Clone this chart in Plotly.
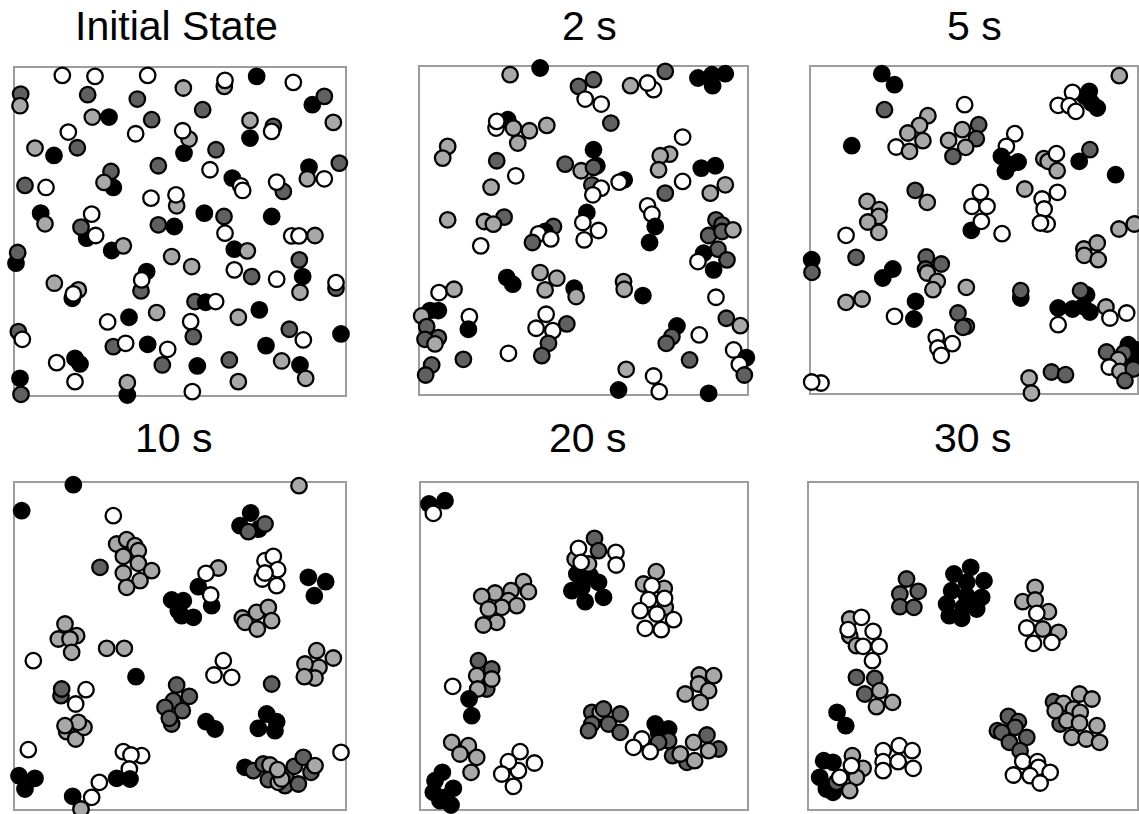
import plotly.graph_objects as go

# ---- Panel titles ----
titles = ["Initial State", "2 s", "5 s", "10 s", "20 s", "30 s"]

# ---- Particle positions (arbitrary position units) and species (W/L/D/B) ----
p1_x = [172, 270, 428, 535, 658, 660, 755, 865, 922, 958, 47, 45, 248, 397, 593, 262, 312, 440, 735, 805,
        800, 985, 190, 392, 552, 533, 735, 90, 147, 217, 537, 633, 460, 318, 325, 297, 615, 912, 907, 958,
        1003, 682, 707, 713, 835, 815, 60, 123, 438, 515, 513, 107, 120, 260, 245, 228, 272, 598, 657, 800,
        460, 508, 660, 860, 882, 930, 33, 38, 320, 355, 500, 688, 727, 560, 883, 688, 425, 408, 410, 740,
        815, 893, 885, 993, 993, 148, 220, 202, 205, 570, 602, 632, 763, 372, 455, 308, 557, 700, 40, 52,
        853, 895, 1008, 325, 362, 428, 488, 565, 783, 155, 210, 225, 472, 577, 673, 830, 885, 902, 45, 48,
        210, 367, 367, 562, 700]
p1_y = [47, 50, 47, 85, 80, 62, 50, 68, 135, 110, 103, 138, 105, 118, 150, 172, 172, 180, 182, 200,
        215, 188, 217, 222, 238, 213, 235, 265, 287, 264, 280, 270, 318, 335, 383, 368, 330, 322, 357, 357,
        310, 355, 378, 392, 395, 367, 377, 383, 415, 438, 405, 460, 492, 463, 535, 502, 527, 460, 470, 470,
        495, 500, 520, 528, 528, 527, 610, 578, 572, 558, 590, 568, 573, 620, 600, 630, 635, 693, 660, 650,
        658, 650, 697, 685, 668, 670, 690, 715, 702, 725, 727, 725, 750, 772, 758, 786, 785, 772, 815, 838,
        808, 840, 822, 860, 850, 853, 868, 830, 857, 908, 895, 912, 915, 918, 900, 903, 915, 955, 955, 1003,
        965, 1005, 968, 995, 965]
p1_c = list("WWWLLWBWBDDLDDDLBDLDWLWWLWBLBDBDDDBLWBLWDBWWDWDWWLWBLWBDWBDBDBWWWLBDBLLBLLDWBDWDWBLDWLLBWDBWBBLWWLDWDWBDWBWDBWBBDBDLBLBDWBLWL")

p2_x = [295, 385, 545, 500, 520, 568, 656, 725, 707, 760, 858, 902, 900, 940, 288, 253, 255, 305, 353, 405,
        318, 597, 812, 108, 93, 255, 545, 460, 555, 508, 545, 540, 568, 543, 312, 773, 745, 740, 868, 910,
        637, 622, 812, 238, 760, 895, 940, 707, 720, 730, 713, 525, 513, 560, 517, 108, 277, 218, 245, 425,
        400, 380, 417, 362, 207, 912, 930, 890, 930, 963, 918, 875, 858, 945, 905, 285, 303, 385, 435, 400,
        487, 493, 635, 637, 693, 82, 127, 912, 55, 80, 30, 45, 80, 40, 70, 173, 170, 403, 373, 423,
        465, 410, 390, 795, 780, 763, 943, 985, 862, 965, 1003, 982, 997, 290, 155, 60, 42, 833, 643, 725,
        742, 620, 890]
p2_y = [45, 25, 60, 80, 118, 133, 78, 90, 70, 35, 55, 78, 45, 42, 180, 205, 185, 205, 213, 197,
        250, 190, 232, 260, 295, 303, 270, 313, 318, 333, 323, 375, 385, 405, 348, 283, 288, 330, 325, 318,
        360, 367, 365, 382, 400, 400, 375, 438, 463, 500, 548, 458, 488, 512, 540, 480, 472, 485, 493, 500,
        515, 522, 537, 548, 558, 480, 495, 527, 515, 510, 568, 580, 605, 600, 630, 653, 673, 638, 655, 690,
        685, 710, 665, 688, 707, 698, 688, 712, 752, 752, 768, 800, 833, 838, 852, 770, 808, 763, 805, 812,
        792, 850, 887, 798, 830, 850, 775, 797, 825, 870, 893, 913, 945, 880, 898, 915, 945, 900, 928, 948,
        995, 990, 1000]
p2_c = list("LBDDWWLWWDBBBBBWWLLLLDWLLDBDBLDDWWWLLLBBBWWLDLLWWBBBWWWLDLLDBWWDWDDDDLDBWDBBBLLLBLLLBWLWBBLDDDLWBWWWDDDBDDDLWWBWDWDDDDLWWBB")

p3_x = [247, 285, 958, 855, 875, 868, 892, 818, 775, 808, 828, 495, 255, 385, 360, 325, 370, 290, 330, 537,
        488, 530, 447, 498, 460, 157, 645, 620, 605, 630, 655, 617, 732, 745, 770, 772, 870, 838, 947, 347,
        383, 675, 515, 542, 517, 562, 545, 727, 773, 733, 742, 722, 203, 240, 238, 205, 238, 140, 607, 957,
        1003, 852, 892, 853, 895, 37, 38, 170, 280, 250, 380, 425, 378, 383, 413, 400, 500, 663, 663, 860,
        842, 140, 188, 348, 343, 285, 775, 818, 850, 870, 918, 930, 980, 775, 475, 500, 490, 410, 458, 415,
        425, 985, 1005, 1000, 920, 972, 955, 928, 960, 1000, 975, 755, 797, 688, 695, 65, 37]
p3_y = [42, 75, 48, 110, 130, 95, 145, 98, 137, 138, 155, 135, 150, 168, 197, 220, 243, 262, 275, 195,
        210, 237, 242, 263, 290, 258, 222, 260, 290, 315, 307, 335, 297, 305, 282, 333, 270, 305, 345, 392,
        428, 388, 512, 398, 440, 440, 485, 418, 398, 448, 493, 490, 425, 450, 470, 487, 518, 527, 522, 508,
        493, 568, 550, 587, 600, 600, 638, 593, 628, 655, 592, 613, 628, 640, 665, 690, 683, 715, 693, 705,
        693, 728, 718, 725, 778, 770, 745, 748, 740, 757, 742, 775, 760, 795, 760, 800, 803, 833, 852, 865,
        887, 855, 870, 900, 877, 880, 900, 922, 935, 928, 963, 937, 945, 955, 1000, 970, 967]
p3_c = list("BBLBBBBWWWWWDLLLLWLDLDLLDBWWBBBBLLWLDBBDLLBWWWWWWWWWLLLLLWWLLLLLLBDDBBDDDLLLLBDBDLLBBWBBBBLWWWDDDWWWWBBBDDLWLDDDDLLWW")

p4_x = [205, 882, 50, 325, 737, 705, 762, 780, 730, 335, 365, 390, 400, 355, 400, 440, 355, 405, 365, 285,
        780, 805, 818, 772, 780, 815, 910, 962, 928, 640, 603, 580, 500, 535, 520, 530, 565, 620, 617, 712,
        755, 790, 800, 720, 757, 180, 215, 160, 195, 200, 305, 358, 85, 655, 627, 680, 935, 985, 942, 930,
        900, 898, 393, 800, 168, 170, 243, 212, 515, 553, 505, 480, 532, 500, 493, 185, 212, 237, 220, 180,
        603, 630, 785, 815, 760, 810, 70, 355, 410, 378, 373, 1008, 42, 90, 60, 335, 375, 283, 260, 203,
        228, 720, 745, 775, 795, 840, 880, 790, 820, 842, 830, 818, 868, 895, 918, 930]
p4_y = [27, 30, 105, 120, 112, 150, 160, 145, 168, 205, 192, 210, 225, 242, 263, 285, 292, 315, 335, 275,
        255, 242, 282, 310, 292, 330, 305, 318, 360, 277, 293, 333, 373, 375, 405, 420, 425, 390, 358, 427,
        410, 395, 435, 440, 460, 445, 480, 490, 490, 530, 518, 518, 555, 555, 598, 605, 525, 547, 575, 607,
        565, 603, 603, 625, 660, 640, 642, 685, 628, 662, 675, 695, 705, 745, 728, 768, 790, 755, 740, 750,
        738, 760, 715, 738, 758, 765, 822, 828, 840, 838, 880, 830, 900, 908, 940, 908, 910, 920, 965, 962,
        1000, 875, 885, 865, 868, 930, 925, 912, 920, 900, 910, 882, 872, 845, 890, 870]
p4_c = list("BLBWBBBDDLLLLLLLLLLDWWWWWWBBBLWBBBBBBBWLLLLLLLLLLLLLWWWWLLLLLLBDDDWWDDDDDDDLLLLLBBBBBBWWWWWWBBBBBWWBLBDDLDDDLDLLDDDL")

p5_x = [52, 100, 65, 480, 495, 510, 520, 535, 560, 575, 490, 530, 548, 560, 500, 508, 612, 613, 335, 350,
        298, 250, 210, 290, 315, 270, 230, 255, 215, 733, 757, 760, 695, 720, 710, 758, 685, 735, 785, 700,
        748, 200, 240, 225, 240, 195, 198, 123, 172, 180, 862, 905, 860, 890, 820, 865, 540, 565, 575, 625,
        540, 590, 530, 625, 730, 740, 770, 770, 740, 782, 885, 920, 825, 805, 845, 890, 848, 690, 665, 715,
        120, 170, 145, 195, 178, 325, 368, 320, 290, 270, 305, 92, 70, 125, 65, 100, 85, 118]
p5_y = [85, 75, 113, 345, 295, 335, 378, 300, 320, 365, 250, 265, 188, 225, 218, 260, 230, 268, 318, 348,
        345, 352, 362, 375, 390, 395, 400, 440, 448, 288, 338, 395, 325, 330, 372, 368, 405, 415, 432, 458,
        462, 555, 580, 640, 610, 600, 640, 632, 670, 720, 598, 600, 625, 645, 655, 680, 710, 710, 700, 715,
        745, 745, 765, 770, 745, 770, 760, 795, 800, 840, 778, 820, 860, 835, 800, 825, 855, 790, 815, 828,
        800, 810, 835, 845, 890, 828, 862, 885, 858, 895, 932, 890, 915, 938, 950, 965, 975, 988]
p5_c = list("BBWBBBBBBBLLDDWWWWLLLLLLLLLLLLLLLWWWWWWWWDDDLLLWBBLLLLLLDLDDDDDDBBBDDDDDDLLLLWWWLLLLLWWWWWWBBBBBBB")

p6_x = [320, 355, 300, 300, 342, 462, 512, 552, 500, 455, 500, 545, 440, 490, 530, 448, 485, 705, 668, 705,
        745, 710, 728, 775, 680, 700, 755, 150, 150, 170, 185, 145, 220, 190, 238, 218, 170, 225, 195, 240,
        278, 230, 112, 138, 760, 780, 790, 838, 875, 820, 765, 840, 800, 838, 890, 815, 858, 898, 625, 655,
        645, 592, 605, 680, 628, 660, 668, 712, 715, 640, 690, 750, 720, 250, 298, 337, 250, 295, 250, 340,
        72, 100, 60, 80, 100, 110, 158, 190, 170, 150, 155, 120]
p6_y = [310, 347, 355, 393, 395, 295, 275, 315, 320, 345, 360, 365, 385, 395, 400, 420, 428, 335, 378, 373,
        408, 413, 460, 470, 457, 503, 500, 430, 480, 510, 425, 462, 467, 512, 512, 555, 605, 608, 655, 645,
        680, 693, 710, 750, 678, 745, 683, 655, 670, 700, 705, 710, 735, 742, 750, 785, 790, 800, 722, 738,
        755, 765, 770, 785, 800, 825, 857, 858, 875, 898, 900, 890, 922, 825, 810, 825, 858, 858, 885, 878,
        855, 860, 905, 940, 950, 920, 840, 878, 905, 945, 870, 905]
p6_c = list("DDDDDBBBBBBBBBBBBLLLLWLLWWWLLLWWWWWWDDDLLLBBDDLLLLLLLLLLLLDDDDDDDDWWWWWWWWWWWWWWBBBBBDLLLLWW")

species_colors = {"W": "#ffffff", "L": "#a8a8a8", "D": "#606060", "B": "#000000"}

FIG_W, FIG_H = 1139, 814
panels = [
    dict(x=p1_x, y=p1_y, c=p1_c, box=(15, 345, 68, 395), xr=[30, 1020], yr=[1005, 25]),
    dict(x=p2_x, y=p2_y, c=p2_c, box=(420, 747, 67, 394), xr=[25, 1005], yr=[1002, 22]),
    dict(x=p3_x, y=p3_y, c=p3_c, box=(811, 1137, 67, 393), xr=[35, 1011], yr=[1000, 22]),
    dict(x=p4_x, y=p4_y, c=p4_c, box=(15, 345, 483, 809), xr=[30, 1020], yr=[1000, 22]),
    dict(x=p5_x, y=p5_y, c=p5_c, box=(421, 747, 483, 809), xr=[28, 1005], yr=[1000, 22]),
    dict(x=p6_x, y=p6_y, c=p6_c, box=(809, 1137, 483, 809), xr=[28, 1010], yr=[1000, 22]),
]
title_y = [26, 26, 26, 438, 438, 438]
title_xshift = [-4, 6, 0, -6, 4, 0]

fig = go.Figure()
annotations = []
for i, p in enumerate(panels, start=1):
    sfx = "" if i == 1 else str(i)
    l, r, t, b = p["box"]
    fig.add_trace(go.Scatter(
        x=p["x"], y=p["y"], mode="markers",
        marker=dict(size=15.5, color=[species_colors[k] for k in p["c"]],
                    line=dict(color="#000000", width=2.3)),
        xaxis="x" + sfx, yaxis="y" + sfx, cliponaxis=False,
        showlegend=False, hoverinfo="skip"))
    axis_common = dict(showgrid=False, zeroline=False, showticklabels=False, ticks="",
                       showline=True, mirror=True, linecolor="#9c9c9c", linewidth=1.5,
                       layer="below traces", fixedrange=True)
    fig.layout["xaxis" + sfx] = dict(domain=[l / FIG_W, r / FIG_W], range=p["xr"],
                                     anchor="y" + sfx, **axis_common)
    fig.layout["yaxis" + sfx] = dict(domain=[1 - b / FIG_H, 1 - t / FIG_H], range=p["yr"],
                                     anchor="x" + sfx, **axis_common)
    annotations.append(dict(text=titles[i - 1], x=(l + r) / 2 / FIG_W, y=1 - title_y[i - 1] / FIG_H,
                            xref="paper", yref="paper", showarrow=False, xshift=title_xshift[i - 1],
                            xanchor="center", yanchor="middle",
                            font=dict(family="Liberation Sans, Arial, sans-serif", size=41, color="#000000")))

fig.update_layout(width=FIG_W, height=FIG_H, margin=dict(l=0, r=0, t=0, b=0),
                  paper_bgcolor="#ffffff", plot_bgcolor="#ffffff", annotations=annotations)
fig.write_html("out.html")
